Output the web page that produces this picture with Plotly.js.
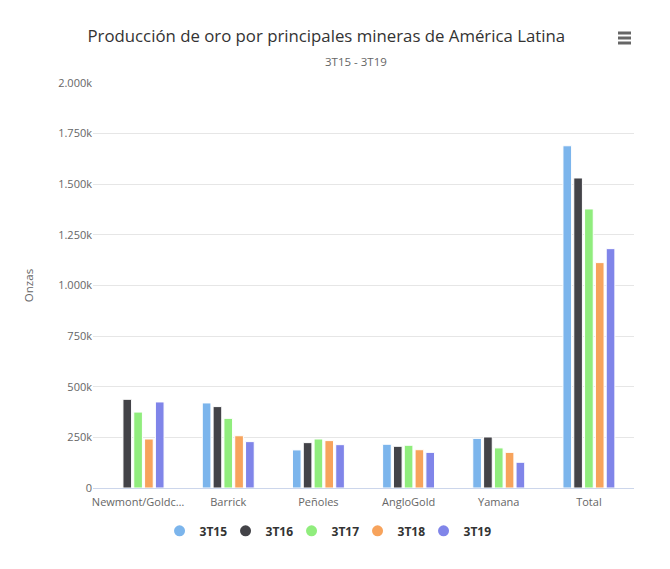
<!DOCTYPE html>
<html>
<head>
<meta charset="utf-8">
<script src="https://cdn.plot.ly/plotly-3.0.1.min.js"></script>
<style>
  body { margin: 0; background: #fff; }
  #chart { width: 670px; height: 569px; }
</style>
</head>
<body>
<div id="chart"></div>
<script>
// categorias del eje x
var mineras = ['Newmont/Goldc…', 'Barrick', 'Peñoles', 'AngloGold', 'Yamana', 'Total']

// onzas por trimestre
var t15 = [null, 420000, 188000, 216000, 245000, 1690000]
var t16 = [438000, 402000, 224000, 206000, 252000, 1531000]
var t17 = [375000, 344000, 242000, 211000, 198000, 1378000]
var t18 = [242000, 258000, 234000, 189000, 176000, 1113000]
var t19 = [425000, 229000, 214000, 176000, 127000, 1182000]

var seriesNames = ['3T15', '3T16', '3T17', '3T18', '3T19']
var seriesColors = ['#7cb5ec', '#434348', '#90ed7d', '#f7a35c', '#8085e9']

var yTickVals = [0, 250000, 500000, 750000, 1000000, 1250000, 1500000, 1750000, 2000000]
var yTickText = ['0', '250k', '500k', '750k', '1.000k', '1.250k', '1.500k', '1.750k', '2.000k']

var allSeries = [t15, t16, t17, t18, t19]
var data = []

for (let i = 0; i < allSeries.length; i++) {
    data.push({
        x: mineras,
        y: allSeries[i],
        type: 'bar',
        name: seriesNames[i],
        legendgroup: seriesNames[i],
        showlegend: false,
        marker: {
            color: seriesColors[i],
            line: { color: '#ffffff', width: 1 }
        },
        hovertemplate: '%{x}<br>' + seriesNames[i] + ': %{y}<extra></extra>'
    })
}

// entradas de leyenda con circulos
for (let i = 0; i < seriesNames.length; i++) {
    data.push({
        x: [null],
        y: [null],
        type: 'scatter',
        mode: 'markers',
        name: seriesNames[i],
        legendgroup: seriesNames[i],
        marker: { color: seriesColors[i], size: 11, symbol: 'circle' },
        hoverinfo: 'skip'
    })
}
// entrada vacia para que no se recorte el texto de la ultima
data.push({
    x: [null],
    y: [null],
    type: 'scatter',
    mode: 'markers',
    name: ' ',
    marker: { color: 'rgba(0,0,0,0)', size: 1 },
    hoverinfo: 'skip'
})

var font = '"Open Sans", "DejaVu Sans", sans-serif'

var layout = {
    width: 670,
    height: 569,
    margin: { l: 93, r: 36, t: 83, b: 81 },
    paper_bgcolor: '#ffffff',
    plot_bgcolor: '#ffffff',
    font: { family: font, size: 11, color: '#666666' },
    barmode: 'group',
    bargap: 0.4,
    bargroupgap: 0.2,
    title: {
        text: 'Producción de oro por principales mineras de América Latina',
        font: { family: font, size: 16.8, color: '#333333' },
        x: 0.487,
        xanchor: 'center',
        y: 0.937,
        yanchor: 'middle'
    },
    xaxis: {
        type: 'category',
        showgrid: false,
        showline: true,
        linecolor: '#ccd6eb',
        linewidth: 1,
        ticks: '',
        ticklabelstandoff: 4,
        tickfont: { family: font, size: 11, color: '#666666' },
        fixedrange: true
    },
    yaxis: {
        range: [0, 2000000],
        tickvals: yTickVals,
        ticktext: yTickText,
        showgrid: true,
        gridcolor: '#e6e6e6',
        zeroline: false,
        showline: false,
        ticks: '',
        ticklen: 0,
        tickfont: { family: font, size: 11, color: '#666666' },
        title: {
            text: 'Onzas',
            font: { family: font, size: 11.5, color: '#666666' },
            standoff: 22
        },
        fixedrange: true
    },
    legend: {
        orientation: 'h',
        x: 0.489,
        xanchor: 'center',
        y: -0.07,
        yanchor: 'top',
        entrywidth: 21,
        entrywidthmode: 'pixels',
        font: { family: font, size: 12, color: '#333333', weight: 'bold' },
        itemclick: false,
        itemdoubleclick: false
    },
    annotations: [{
        text: '3T15 - 3T19',
        xref: 'paper',
        yref: 'paper',
        x: 0.487,
        y: 1.052,
        xanchor: 'center',
        yanchor: 'middle',
        showarrow: false,
        font: { family: font, size: 11.5, color: '#666666' }
    }]
}

// icono del menu: tres barras, en pixeles relativos al area de trazado
var plotW = 670 - 93 - 36
var plotH = 569 - 83 - 81
layout.shapes = [33, 38, 43].map(function (py) {
    return {
        type: 'line',
        xref: 'paper',
        yref: 'paper',
        x0: (618 - 93) / plotW,
        x1: (631 - 93) / plotW,
        y0: (488 - py) / plotH,
        y1: (488 - py) / plotH,
        line: { color: '#666666', width: 3 }
    }
})

Plotly.newPlot('chart', data, layout, { displayModeBar: false, responsive: false })
</script>
</body>
</html>
